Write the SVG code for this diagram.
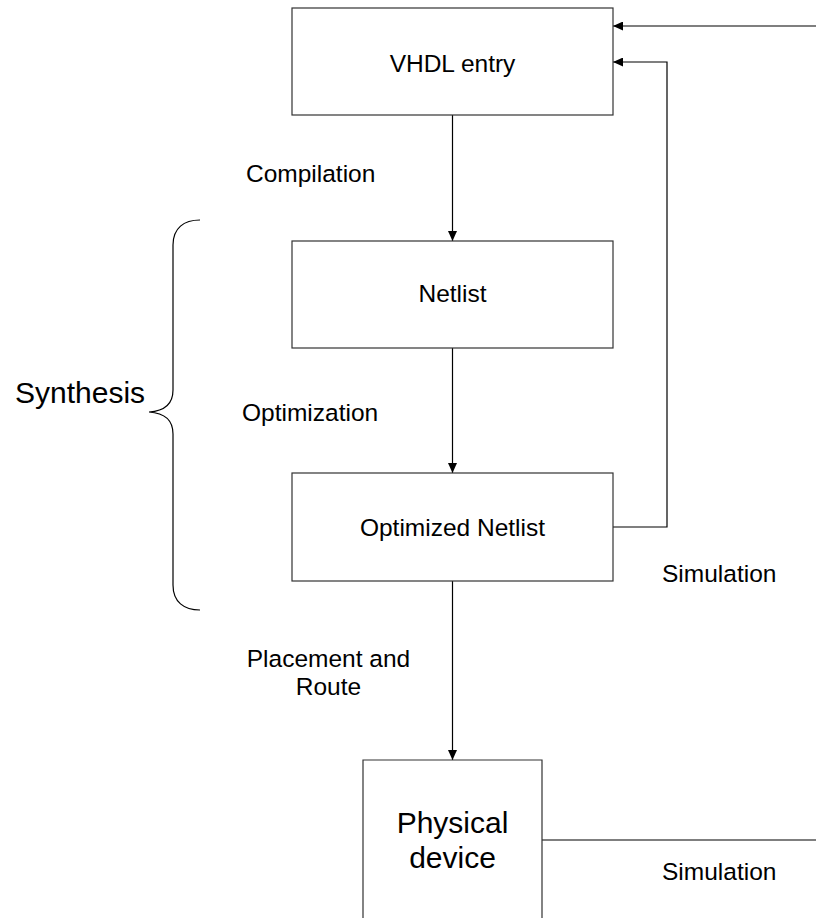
<svg xmlns="http://www.w3.org/2000/svg" width="816" height="918" viewBox="0 0 816 918">
  <defs>
    <marker id="arrow" markerUnits="userSpaceOnUse" markerWidth="10" markerHeight="9" refX="10" refY="4.5" orient="auto">
      <path d="M0,0 L10,4.5 L0,9 Z" fill="#000"/>
    </marker>
    <style>
      .box { fill: #fff; stroke: #333; stroke-width: 1.2; }
      .edge { fill: none; stroke: #000; stroke-width: 1.2; }
      .lbl { font-family: "Liberation Sans", Arial, sans-serif; font-size: 24.5px; fill: #000; }
      .mid { text-anchor: middle; }
      .big { font-size: 30px; }
    </style>
  </defs>
  <rect width="816" height="918" fill="#fff"/>

  <!-- connectors -->
  <g id="connectors">
    <path class="edge" d="M452.5,115 L452.5,241" marker-end="url(#arrow)"/>
    <path class="edge" d="M452.5,348 L452.5,473" marker-end="url(#arrow)"/>
    <path class="edge" d="M452.5,581 L452.5,760" marker-end="url(#arrow)"/>
    <path class="edge" d="M613,527 L667,527 L667,62 L613,62" marker-end="url(#arrow)"/>
    <path class="edge" d="M816,26 L613,26" marker-end="url(#arrow)"/>
    <path class="edge" d="M542,840 L816,840"/>
  </g>

  <!-- nodes -->
  <g id="vhdl-entry">
    <rect class="box" x="292" y="8" width="321" height="107"/>
    <text class="lbl mid" x="452.5" y="72">VHDL entry</text>
  </g>
  <g id="netlist">
    <rect class="box" x="292" y="241" width="321" height="107"/>
    <text class="lbl mid" x="452.5" y="302">Netlist</text>
  </g>
  <g id="optimized-netlist">
    <rect class="box" x="292" y="473" width="321" height="108"/>
    <text class="lbl mid" x="452.5" y="536">Optimized Netlist</text>
  </g>
  <g id="physical-device">
    <path class="box" d="M363,918 L363,760 L542,760 L542,918"/>
    <text class="lbl big mid" x="452.5" y="833">Physical</text>
    <text class="lbl big mid" x="452.5" y="868">device</text>
  </g>

  <!-- edge labels -->
  <g id="labels">
    <text class="lbl" x="246" y="182">Compilation</text>
    <text class="lbl" x="242" y="421">Optimization</text>
    <text class="lbl mid" x="328.5" y="667">Placement and</text>
    <text class="lbl mid" x="328.5" y="695">Route</text>
    <text class="lbl" x="662" y="582">Simulation</text>
    <text class="lbl" x="662" y="880">Simulation</text>
  </g>

  <!-- synthesis brace -->
  <g id="synthesis">
    <path class="edge" d="M200,220 C184,220 173,228 173,245 L173,390 C173,403 165,411 149,412 C165,413 173,421 173,434 L173,585 C173,602 184,610 200,610"/>
    <text class="lbl big" x="15" y="403">Synthesis</text>
  </g>
</svg>
